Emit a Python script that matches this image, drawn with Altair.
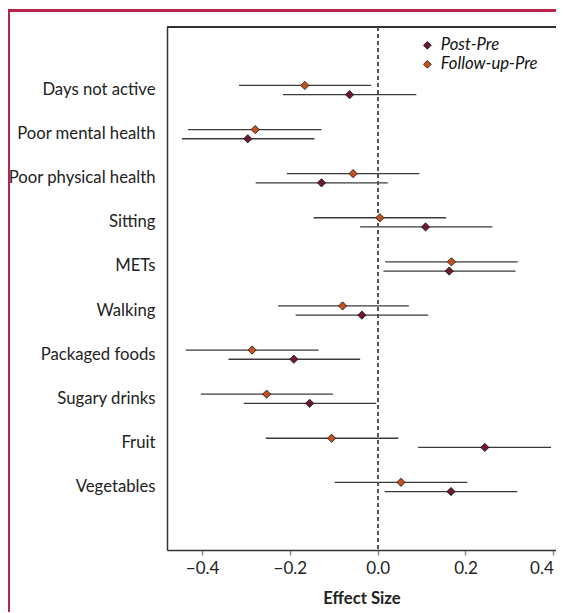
import altair as alt
import pandas as pd

categories = ["Days not active", "Poor mental health", "Poor physical health", "Sitting",
              "METs", "Walking", "Packaged foods", "Sugary drinks", "Fruit", "Vegetables"]
series_names = ["Post-Pre", "Follow-up-Pre"]
pp_est = [-0.064, -0.296, -0.128, 0.109, 0.163, -0.036, -0.191, -0.155, 0.244, 0.167]
pp_lo = [-0.216, -0.446, -0.278, -0.040, 0.013, -0.187, -0.340, -0.305, 0.092, 0.016]
pp_hi = [0.088, -0.144, 0.023, 0.261, 0.314, 0.115, -0.040, -0.004, 0.395, 0.318]
fu_est = [-0.166, -0.279, -0.056, 0.005, 0.168, -0.080, -0.286, -0.253, -0.105, 0.053]
fu_lo = [-0.316, -0.432, -0.207, -0.146, 0.017, -0.227, -0.437, -0.403, -0.255, -0.098]
fu_hi = [-0.015, -0.128, 0.095, 0.156, 0.319, 0.071, -0.135, -0.102, 0.047, 0.204]
x_ticks = [-0.4, -0.2, 0.0, 0.2, 0.4]

rows = []
for i, c in enumerate(categories):
    rows.append({"cat": c, "series": series_names[0], "est": pp_est[i], "lo": pp_lo[i], "hi": pp_hi[i]})
    rows.append({"cat": c, "series": series_names[1], "est": fu_est[i], "lo": fu_lo[i], "hi": fu_hi[i]})
df = pd.DataFrame(rows)

W, H = 389, 523
PAD_L, PAD_T, PAD_B = 159, 19, 62
FONT = "Lato"
LINE = "#3a3a3a"
RED = "#b8254a"

xscale = alt.Scale(domain=[-0.48, 0.4062], nice=False, zero=False)
yscale = alt.Scale(type="band", domain=categories, paddingInner=0, paddingOuter=0.93)
cscale = alt.Scale(domain=series_names, range=["#6e1a2e", "#c4521e"])

xenc = alt.X("est:Q", scale=xscale,
             axis=alt.Axis(values=x_ticks, format=".1f", title="Effect Size", grid=False,
                           domainColor="#333", domainWidth=1.5, tickColor="#888", tickWidth=1.5,
                           tickSize=5, labelFontSize=17, labelColor="#222", labelPadding=5,
                           labelFlush=5,
                           titleFontSize=16.7, titleFontWeight="bold", titleColor="#222",
                           titlePadding=14))
yenc = alt.Y("cat:N", scale=yscale, sort=categories,
             axis=alt.Axis(title=None, ticks=False, domainColor="#333", domainWidth=1.5,
                           labelFontSize=16.7, labelColor="#222", labelPadding=12, grid=False))

base = alt.Chart(df)
layers = []
offs = {"Post-Pre": 4.6, "Follow-up-Pre": -4.6}
for s in series_names:
    sub = base.transform_filter(alt.datum.series == s)
    layers.append(sub.mark_rule(color=LINE, strokeWidth=1.3, yOffset=offs[s]).encode(
        x=alt.X("lo:Q", scale=xscale), x2="hi:Q", y=alt.Y("cat:N", scale=yscale, sort=categories)))

zero = base.mark_rule(color="#555", strokeWidth=1.3, strokeDash=[4, 3]).encode(
    x=alt.datum(0, scale=xscale))

pts = []
for s in series_names:
    sub = base.transform_filter(alt.datum.series == s)
    pts.append(sub.mark_point(shape="diamond", filled=True, size=68, stroke="#111",
                              strokeWidth=0.8, opacity=1, yOffset=offs[s]).encode(
        x=xenc, y=yenc,
        color=alt.Color("series:N", scale=cscale,
                        legend=alt.Legend(title=None, orient="none", legendX=252, legendY=10,
                                          symbolType="diamond", symbolSize=60,
                                          symbolStrokeColor="#111", symbolStrokeWidth=0.8,
                                          labelFontSize=16.7, labelFontStyle="italic",
                                          labelColor="#111", labelOffset=5, rowPadding=1,
                                          padding=0))))

top_line = base.mark_rule(color="#333", strokeWidth=1.5).encode(
    x=alt.value(0), x2=alt.value(W + 5), y=alt.value(0))
red_left = base.mark_rule(color=RED, strokeWidth=1.6).encode(
    x=alt.value(-158.5), y=alt.value(-16.6), y2=alt.value(H + PAD_B + 5))
red_top = base.mark_rule(color=RED, strokeWidth=1.6).encode(
    x=alt.value(-159.3), x2=alt.value(W + 5), y=alt.value(-16.6))

chart = alt.layer(red_left, red_top, top_line, *layers, zero, *pts).properties(
    width=W, height=H, autosize=alt.AutoSizeParams(type="none"),
    padding={"left": PAD_L, "top": PAD_T, "right": 0, "bottom": PAD_B}
).configure_view(stroke=None).configure_axis(labelFont=FONT, titleFont=FONT).configure_legend(
    labelFont=FONT)

chart.save("out.html", embed_options={"renderer": "svg", "actions": False})
